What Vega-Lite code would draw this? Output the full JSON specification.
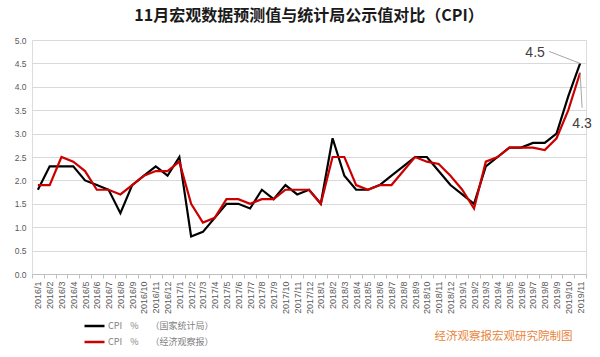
{
  "$schema": "https://vega.github.io/schema/vega-lite/v6.json",
  "width": 554,
  "height": 234,
  "autosize": {"type": "none"},
  "padding": {"left": 32, "top": 40, "right": 14, "bottom": 83},
  "background": "white",
  "title": {
    "text": "11月宏观数据预测值与统计局公示值对比（CPI）",
    "font": "Noto Sans CJK SC",
    "fontSize": 16,
    "fontWeight": "bold",
    "color": "#1a1a1a",
    "anchor": "middle",
    "frame": "group",
    "offset": 12
  },
  "data": {
    "values": [
      {"month": "2016/1", "国家统计局": 1.8, "经济观察报": 1.9},
      {"month": "2016/2", "国家统计局": 2.3, "经济观察报": 1.9},
      {"month": "2016/3", "国家统计局": 2.3, "经济观察报": 2.5},
      {"month": "2016/4", "国家统计局": 2.3, "经济观察报": 2.4},
      {"month": "2016/5", "国家统计局": 2.0, "经济观察报": 2.2},
      {"month": "2016/6", "国家统计局": 1.9, "经济观察报": 1.8},
      {"month": "2016/7", "国家统计局": 1.8, "经济观察报": 1.8},
      {"month": "2016/8", "国家统计局": 1.3, "经济观察报": 1.7},
      {"month": "2016/9", "国家统计局": 1.9, "经济观察报": 1.9},
      {"month": "2016/10", "国家统计局": 2.1, "经济观察报": 2.1},
      {"month": "2016/11", "国家统计局": 2.3, "经济观察报": 2.2},
      {"month": "2016/12", "国家统计局": 2.1, "经济观察报": 2.2},
      {"month": "2017/1", "国家统计局": 2.5, "经济观察报": 2.4},
      {"month": "2017/2", "国家统计局": 0.8, "经济观察报": 1.5},
      {"month": "2017/3", "国家统计局": 0.9, "经济观察报": 1.1},
      {"month": "2017/4", "国家统计局": 1.2, "经济观察报": 1.2},
      {"month": "2017/5", "国家统计局": 1.5, "经济观察报": 1.6},
      {"month": "2017/6", "国家统计局": 1.5, "经济观察报": 1.6},
      {"month": "2017/7", "国家统计局": 1.4, "经济观察报": 1.5},
      {"month": "2017/8", "国家统计局": 1.8, "经济观察报": 1.6},
      {"month": "2017/9", "国家统计局": 1.6, "经济观察报": 1.6},
      {"month": "2017/10", "国家统计局": 1.9, "经济观察报": 1.8},
      {"month": "2017/11", "国家统计局": 1.7, "经济观察报": 1.8},
      {"month": "2017/12", "国家统计局": 1.8, "经济观察报": 1.8},
      {"month": "2018/1", "国家统计局": 1.5, "经济观察报": 1.5},
      {"month": "2018/2", "国家统计局": 2.9, "经济观察报": 2.5},
      {"month": "2018/3", "国家统计局": 2.1, "经济观察报": 2.5},
      {"month": "2018/4", "国家统计局": 1.8, "经济观察报": 1.9},
      {"month": "2018/5", "国家统计局": 1.8, "经济观察报": 1.8},
      {"month": "2018/6", "国家统计局": 1.9, "经济观察报": 1.9},
      {"month": "2018/7", "国家统计局": 2.1, "经济观察报": 1.9},
      {"month": "2018/8", "国家统计局": 2.3, "经济观察报": 2.2},
      {"month": "2018/9", "国家统计局": 2.5, "经济观察报": 2.5},
      {"month": "2018/10", "国家统计局": 2.5, "经济观察报": 2.4},
      {"month": "2018/11", "国家统计局": 2.2, "经济观察报": 2.35},
      {"month": "2018/12", "国家统计局": 1.9, "经济观察报": 2.1},
      {"month": "2019/1", "国家统计局": 1.7, "经济观察报": 1.8},
      {"month": "2019/2", "国家统计局": 1.5, "经济观察报": 1.4},
      {"month": "2019/3", "国家统计局": 2.3, "经济观察报": 2.4},
      {"month": "2019/4", "国家统计局": 2.5, "经济观察报": 2.5},
      {"month": "2019/5", "国家统计局": 2.7, "经济观察报": 2.7},
      {"month": "2019/6", "国家统计局": 2.7, "经济观察报": 2.7},
      {"month": "2019/7", "国家统计局": 2.8, "经济观察报": 2.7},
      {"month": "2019/8", "国家统计局": 2.8, "经济观察报": 2.65},
      {"month": "2019/9", "国家统计局": 3.0, "经济观察报": 2.9},
      {"month": "2019/10", "国家统计局": 3.8, "经济观察报": 3.5},
      {"month": "2019/11", "国家统计局": 4.5, "经济观察报": 4.3}
    ]
  },
  "transform": [{"fold": ["国家统计局", "经济观察报"], "as": ["series", "value"]}],
  "encoding": {
    "x": {
      "field": "month",
      "type": "ordinal",
      "sort": null,
      "scale": {"type": "band", "paddingInner": 0, "paddingOuter": 0},
      "axis": {
        "title": "经济观察报宏观研究院制图",
        "titleColor": "#E8853D",
        "titleFont": "Noto Sans CJK SC",
        "titleFontSize": 11.5,
        "titleFontWeight": "normal",
        "titleAnchor": "end",
        "titleAlign": "right",
        "titleBaseline": "middle",
        "titleX": 540,
        "titleY": 62,
        "labelAngle": -90,
        "labelFont": "Liberation Sans",
        "labelFontSize": 9,
        "labelColor": "#595959",
        "labelPadding": 3,
        "domainColor": "#bfbfbf",
        "tickColor": "#bfbfbf",
        "tickBand": "extent",
        "tickSize": 4,
        "grid": false
      }
    },
    "y": {
      "field": "value",
      "type": "quantitative",
      "scale": {"domain": [0, 5], "nice": false},
      "axis": {
        "title": null,
        "values": [0, 0.5, 1, 1.5, 2, 2.5, 3, 3.5, 4, 4.5, 5],
        "format": ".1f",
        "domain": false,
        "ticks": false,
        "labelFont": "Liberation Sans",
        "labelFontSize": 8.5,
        "labelColor": "#595959",
        "labelPadding": 6,
        "gridColor": "#d9d9d9",
        "gridWidth": 1
      }
    }
  },
  "layer": [
    {
      "mark": {"type": "line", "strokeWidth": 2.2},
      "encoding": {
        "color": {
          "field": "series",
          "type": "nominal",
          "scale": {"domain": ["国家统计局", "经济观察报"], "range": ["#000000", "#cc0000"]},
          "legend": {
            "title": null,
            "orient": "none",
            "legendX": 51,
            "legendY": 280,
            "symbolType": "stroke",
            "symbolSize": 400,
            "symbolStrokeWidth": 2.5,
            "clipHeight": 12,
            "rowPadding": 4,
            "labelOffset": 2,
            "labelFont": "Noto Sans CJK SC",
            "labelFontSize": 9,
            "labelColor": "#7f7f7f",
            "labelExpr": "'CPI\u00a0\u00a0\u00a0\u00a0%\u00a0\u00a0\u00a0\u00a0\u00a0\u00a0（' + datum.label + '）'"
          }
        }
      }
    },
    {
      "transform": [{"filter": "datum.month == '2019/11' && datum.series == '国家统计局'"}],
      "mark": {"type": "rule", "color": "#a6a6a6", "strokeWidth": 1, "x2Offset": -31, "y2Offset": -12},
      "encoding": {"x2": {"field": "month"}, "y2": {"field": "value"}}
    },
    {
      "transform": [{"filter": "datum.month == '2019/11' && datum.series == '经济观察报'"}],
      "mark": {"type": "rule", "color": "#a6a6a6", "strokeWidth": 1, "x2Offset": 2, "y2Offset": 35},
      "encoding": {"x2": {"field": "month"}, "y2": {"field": "value"}}
    },
    {
      "transform": [{"filter": "datum.month == '2019/11' && datum.series == '国家统计局'"}],
      "mark": {"type": "text", "font": "Liberation Sans", "fontSize": 14, "color": "#404040", "dx": -45, "dy": -10},
      "encoding": {"text": {"field": "value", "type": "quantitative", "format": ".1f"}}
    },
    {
      "transform": [{"filter": "datum.month == '2019/11' && datum.series == '经济观察报'"}],
      "mark": {"type": "text", "font": "Liberation Sans", "fontSize": 14, "color": "#404040", "dx": 2, "dy": 51},
      "encoding": {"text": {"field": "value", "type": "quantitative", "format": ".1f"}}
    }
  ]
}
